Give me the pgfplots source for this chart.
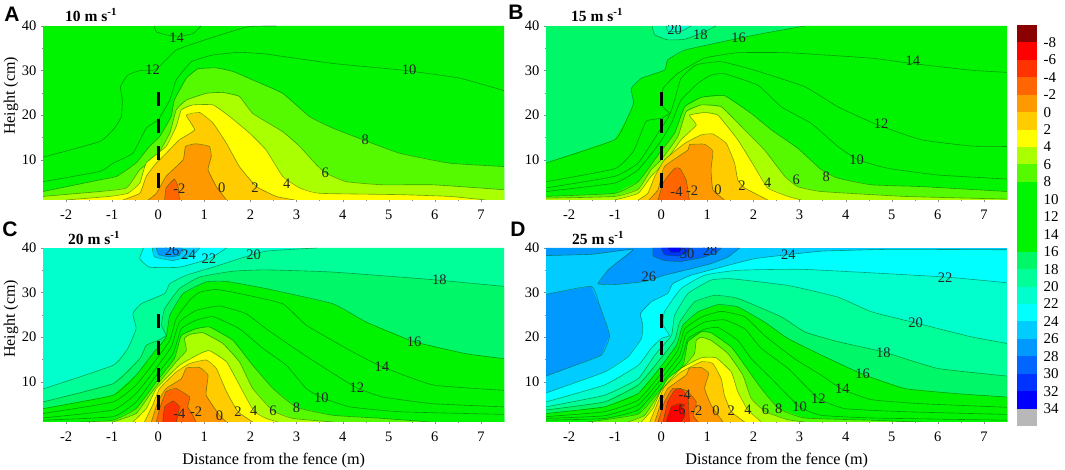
\documentclass[border=0pt]{standalone}
\usepackage{fontspec}
\setmainfont{Liberation Serif}
\newfontfamily\lettersf{Liberation Sans}
\usepackage{pgfplots}
\pgfplotsset{compat=1.18}
\definecolor{low}{HTML}{8B0000}
\definecolor{vm8}{HTML}{FF0000}
\definecolor{vm6}{HTML}{FF3300}
\definecolor{vm4}{HTML}{FF6600}
\definecolor{vm2}{HTML}{FF9900}
\definecolor{v0}{HTML}{FFCC00}
\definecolor{v2}{HTML}{FFFF00}
\definecolor{v4}{HTML}{AAFF00}
\definecolor{v6}{HTML}{55FA00}
\definecolor{v8}{HTML}{00F600}
\definecolor{v10}{HTML}{00F400}
\definecolor{v12}{HTML}{00F400}
\definecolor{v14}{HTML}{00F400}
\definecolor{v16}{HTML}{00F868}
\definecolor{v18}{HTML}{00FF99}
\definecolor{v20}{HTML}{00FFCC}
\definecolor{v22}{HTML}{00FFFF}
\definecolor{v24}{HTML}{00CCFF}
\definecolor{v26}{HTML}{0099FF}
\definecolor{v28}{HTML}{0066FF}
\definecolor{v30}{HTML}{0033FF}
\definecolor{v32}{HTML}{0000FF}
\definecolor{high}{HTML}{B8B8B8}
\newcommand{\BR}{(7.5,1)(-2.5,1)}
\newcommand{\TBR}{(7.5,40)(7.5,1)(-2.5,1)}
\newcommand{\ctr}[3]{%
  \addplot[fill=#1,draw=none,no markers,forget plot] coordinates {#2 #3} --cycle;
  \addplot[cline,forget plot] coordinates {#2};}
\newcommand{\bg}[1]{\addplot[fill=#1,draw=none,no markers,forget plot] coordinates {(-2.5,1)(7.5,1)(7.5,40)(-2.5,40)} --cycle;}
\newcommand{\fence}{\addplot[black,line width=3pt,dash pattern=on 14.3pt off 13pt,no markers,forget plot] coordinates {(0,25.3)(0,3.7)};}
\newcommand{\lab}[3]{\node[clab] at (axis cs:#1,#2) {#3};}
\tikzset{clab/.style={font=\fontsize{14.5}{15}\selectfont,inner sep=0pt,text=black!85}}
\pgfplotsset{
  cline/.style={draw=black!70!green!90!black,draw opacity=0.5,line width=0.6pt,no markers,smooth,tension=0.25},
  panel/.style={width=461pt,height=174pt,scale only axis,xmin=-2.5,xmax=7.5,ymin=1,ymax=40,
    axis lines*=left,axis line style={draw=none,-},
    xtick={-2,-1,0,1,2,3,4,5,6,7},xticklabels={-2,-1,0,1,2,3,4,5,6,7},
    ytick={10,20,30,40},yticklabels={10,20,30,40},
    minor x tick num=1,minor y tick num=1,
    tick style={draw=black!45,line width=0.3pt},major tick length=2pt,minor tick length=1.5pt,
    tick align=outside,
    ticklabel style={font=\fontsize{14.5}{15}\selectfont},
    xticklabel style={yshift=-4.5pt},yticklabel style={xshift=-1pt},
  },
}
\begin{document}
\begin{tikzpicture}[x=1pt,y=1pt]
\path[use as bounding box] (0,0) rectangle (1065,470);
% ---------- A
\begin{axis}[panel,at={(43pt,270pt)},anchor=south west]
\bg{v12}
\ctr{v14}{(-0.09,40)(-0.04,38.7)(0.17,38)(0.46,37.7)(0.75,38.3)(0.93,40)}{}
\ctr{v10}{(-2.5,10.6)(-1.27,14.1)(-0.95,17.1)(-0.8,19.7)(-0.78,23.4)(-0.82,26.4)(-0.66,29)(-0.4,30)(-0.1,30.1)(0.03,31)(0.39,34.6)(0.9,36.5)(1.47,38.4)(1.98,39.9)(2.56,40)}{\TBR}
\ctr{v8}{(-2.5,5.1)(-1.27,7.4)(-0.98,9.25)(-0.55,11.5)(-0.26,17.1)(0,19)(0.25,23.4)(0.39,27.9)(0.72,32)(1.19,33.5)(1.76,34.1)(2.34,33.7)(3.79,31.6)(5.3,30.1)(6.54,28.3)(7.5,25.5)}{\BR}
\ctr{v6}{(-2.5,2.9)(-1.27,5.5)(-0.9,6.3)(-0.48,9.3)(-0.19,13)(0.03,15.2)(0.28,19.7)(0.35,23.4)(0.61,28.3)(0.86,30.4)(1.26,30.6)(1.62,29.8)(2.05,27.9)(2.7,24.9)(3.28,19.7)(3.79,17.1)(4.44,14.5)(5.23,11.5)(6.32,9.25)(7.5,8.5)}{\BR}
\ctr{v4}{(-2.5,1.8)(-1.27,2.9)(-0.69,3.7)(-0.4,7.8)(-0.04,10.7)(0.25,16)(0.39,21.2)(0.61,23.4)(1.04,24.9)(1.4,25.1)(1.76,24.2)(2.05,20.4)(2.7,16.3)(3.07,13)(3.43,8.9)(3.64,7)(4.08,5.1)(4.87,4.4)(5.96,4.4)(7.5,3.3)}{\BR}
\ctr{v2}{(-2,1)(-1.06,1.8)(-0.66,2.5)(-0.4,4.8)(-0.26,9.3)(0.17,13)(0.39,17.5)(0.5,21.2)(0.75,22.3)(1.19,22.3)(1.55,19.7)(1.98,16)(2.34,12.2)(2.7,6.3)(3.07,3.7)(3.5,2.5)(5.23,2.2)(6.32,1.8)(7.1,1)}{}
\ctr{v0}{(-0.77,1)(-0.4,2.5)(-0.26,6.3)(-0.04,9.3)(0.1,10.7)(0.46,14.5)(0.79,16.7)(0.61,20)(0.9,20.6)(1.19,18.2)(1.48,13.7)(1.76,8.5)(2.13,4)(2.56,1.8)(2.96,1)}{}
\ctr{vm2}{(-0.22,1)(-0.04,2.5)(0.17,6.3)(0.54,10)(0.59,13)(0.82,13.6)(1.11,13)(1.15,10.7)(1.08,7.8)(1.26,4)(1.48,1)}{}
\ctr{vm4}{(0.14,1)(0.17,3.7)(0.35,5.7)(0.43,4)(0.46,1)}{}
\fence
\lab{0.4}{37.4}{14}\lab{-0.12}{30.1}{12}\lab{5.44}{30.1}{10}\lab{4.49}{14.6}{8}\lab{3.62}{7}{6}\lab{2.79}{4.6}{4}\lab{2.1}{3.7}{2}\lab{1.38}{3.7}{0}\lab{0.46}{3.5}{-2}
\end{axis}
% ---------- B
\begin{axis}[panel,at={(546pt,270pt)},anchor=south west]
\bg{v16}
\ctr{v18}{(-0.2,40)(-0.14,38)(0.14,36.9)(0.5,37)(0.87,38.4)(1.19,40)}{}
\ctr{v20}{(0.11,40)(0.15,38.8)(0.43,38.8)(0.65,40)}{}
\ctr{v14}{(-2.5,9.3)(-1.01,14.5)(-0.72,19.7)(-0.6,22.7)(-0.65,26)(-0.43,28.3)(0.07,30.1)(0.14,32.4)(0.51,34.6)(1.52,36.9)(2.24,38.4)(3.11,40)}{\TBR}
\ctr{v12}{(-2.5,5.1)(-1.01,8)(-0.6,12)(-0.33,18.6)(0,19.3)(0.18,20.4)(0.03,22)(0.04,26)(0.36,29.4)(0.94,32.8)(1.66,34)(2.75,34)(4.55,32.8)(5.43,31.6)(6.72,30.1)(7.5,29.6)}{\BR}
\ctr{v10}{(-2.5,3.7)(-1.01,6.3)(-0.5,9.3)(-0.07,16)(0.18,20)(0.29,23.4)(0.43,28.3)(0.76,31.3)(1.3,32)(2.02,30.1)(3.11,26.4)(3.83,21.9)(4.7,17.8)(5.64,14.5)(6.72,13.1)(7.5,13)}{\BR}
\ctr{v8}{(-2.5,2.9)(-1.01,4.8)(-0.5,7.8)(-0.04,13.7)(0.22,18.2)(0.43,23.4)(0.8,27.2)(1.08,29)(1.37,29.3)(2.1,26.7)(2.6,21.9)(3.25,18.2)(3.83,13)(4.27,10)(4.92,8.1)(6,6.6)(7.5,5.7)}{\BR}
\ctr{v6}{(-2.5,1.8)(-1.01,2.5)(-0.5,5.1)(-0.04,11.5)(0.29,16)(0.51,21.9)(0.87,24)(1.37,24.4)(1.95,20.4)(2.39,16.7)(2.96,12.6)(3.47,7.8)(3.83,5.9)(4.56,4.4)(5.64,4)(7.5,2.9)}{\BR}
\ctr{v4}{(-2.5,1.4)(-1.01,1.8)(-0.5,3.4)(-0.22,7.8)(0,10)(0.36,15.2)(0.54,20.8)(0.87,22.3)(1.3,21.9)(1.81,16.7)(2.24,12.2)(2.68,6.3)(2.96,4)(3.47,2.9)(5.28,1.8)(7.5,1.2)}{\BR}
\ctr{v2}{(-1.01,1)(-0.5,2.5)(-0.22,6.3)(0.07,9.3)(0.43,14.5)(0.76,17.8)(0.61,20)(0.94,20.6)(1.23,20)(1.66,14.5)(2.02,8.5)(2.31,3.7)(2.75,1.8)(3.04,1)}{}
\ctr{v0}{(-0.5,1)(-0.29,2.5)(-0.14,6.3)(0.07,10)(0.51,13.7)(0.87,15.6)(1.12,15.8)(1.41,13.7)(1.59,9.3)(1.66,5.5)(1.81,3.7)(2.31,1)}{}
\ctr{vm2}{(-0.27,1)(-0.07,3.3)(0.07,8.5)(0.58,12.2)(0.61,13.4)(0.94,13.5)(1.12,11.9)(1.08,7.8)(1.12,3.3)(1.37,1)}{}
\ctr{vm4}{(-0.07,1)(0.04,4.8)(0.14,6.3)(0.29,8.1)(0.4,8.1)(0.54,5.5)(0.61,1)}{}
\fence
\lab{0.29}{39.1}{20}\lab{0.85}{38.1}{18}\lab{1.68}{37.4}{16}\lab{5.46}{32.2}{14}\lab{4.77}{18.1}{12}\lab{4.24}{10.1}{10}\lab{3.58}{6.3}{8}\lab{2.93}{5.5}{6}\lab{2.31}{4.8}{4}\lab{1.75}{4.2}{2}\lab{1.23}{3.3}{0}\lab{0.67}{3.1}{-2}\lab{0.33}{2.9}{-4}
\end{axis}
% ---------- C
\begin{axis}[panel,at={(43pt,48pt)},anchor=south west]
\bg{v20}
\ctr{v22}{(-0.32,40)(-0.4,37.6)(-0.19,35.7)(0.46,35.7)(1.11,37.6)(1.48,40)}{}
\ctr{v24}{(-0.13,40)(-0.08,38)(0.32,37.2)(0.75,38.4)(0.9,40)}{}
\ctr{v26}{(-0.04,40)(0.01,38.5)(0.25,38)(0.46,38.4)(0.52,40)}{}
\ctr{v18}{(-2.5,8.4)(-0.98,13.7)(-0.66,17.5)(-0.48,21.9)(-0.55,25.3)(-0.37,27.5)(0.14,29.8)(0.25,32)(0.61,33.9)(1.19,35.7)(1.76,37.6)(2.34,39.3)(3.43,40)}{\TBR}
\ctr{v16}{(-2.5,5.5)(-0.98,9.6)(-0.4,15.2)(-0.26,18.2)(0,19.3)(0.17,20.4)(0.07,22.7)(0.14,26.4)(0.46,30.9)(0.9,33.5)(1.62,34.8)(2.34,35.1)(3.79,34.6)(5.96,32.9)(7.5,31.4)}{\BR}
\ctr{v14}{(-2.5,4)(-0.98,7)(-0.48,11.5)(-0.12,16.3)(0.17,20)(0.25,24.9)(0.54,29.8)(1.04,32.4)(1.48,32.5)(2.34,30.9)(3.79,27.5)(4.51,23.4)(5.55,19)(6.68,16.3)(7.5,15.2)}{\BR}
\ctr{v12}{(-2.5,2.9)(-0.98,5.5)(-0.48,9.3)(-0.08,14.5)(0.25,19.3)(0.39,24.2)(0.68,28.3)(0.9,30.1)(1.26,30.7)(1.76,29.8)(2.7,27.5)(3.21,22.7)(4.15,17.1)(4.85,13.4)(5.96,9.3)(7.5,8.1)}{\BR}
\ctr{v10}{(-2.5,1.9)(-0.98,3.7)(-0.48,7.4)(-0.08,12.6)(0.28,17.8)(0.46,23.4)(0.82,26)(1.33,27)(1.9,25.3)(2.34,21.9)(3.07,16.7)(3.79,11.9)(4.3,8.7)(4.87,6.6)(5.96,5.1)(7.5,4.4)}{\BR}
\ctr{v8}{(-2.5,1.4)(-0.98,2.2)(-0.48,5.5)(-0.04,11.5)(0.32,16.3)(0.5,21.9)(0.82,23.8)(1.19,24.6)(1.76,21.9)(2.27,17.5)(2.78,13.7)(3.21,8.5)(3.54,6.5)(4.15,4.4)(5.23,3.3)(7.5,2.7)}{\BR}
\ctr{v6}{(-1.7,1)(-0.98,1.4)(-0.48,4)(-0.04,10)(0.35,15.2)(0.5,20.4)(0.82,21.9)(1.11,22.3)(1.62,19.3)(2.05,13.7)(2.49,8.5)(3,4.3)(3.79,2.5)(4.87,1.8)(5.9,1)}{}
\ctr{v4}{(-0.98,1)(-0.48,2.9)(-0.19,7)(0.03,10)(0.39,14.5)(0.61,17)(0.57,19.7)(0.68,20.6)(0.97,21)(1.4,18.6)(1.76,14.5)(2.05,8.5)(2.49,3.5)(2.92,1.8)(3.79,1)}{}
\ctr{v2}{(-0.55,1)(-0.26,4)(-0.04,8.5)(0.46,13.7)(0.9,16.3)(1.11,17)(1.48,14.5)(1.76,9.3)(2.07,3.5)(2.34,1.8)(2.6,1)}{}
\ctr{v0}{(-0.3,1)(-0.12,4.8)(0.03,8.5)(0.39,12.2)(0.68,14.1)(1.04,14.9)(1.26,13)(1.48,7.8)(1.73,3.3)(2.05,1)}{}
\ctr{vm2}{(-0.15,1)(-0.01,5.5)(0.17,8.5)(0.5,10.7)(0.61,13.1)(0.9,13.2)(1.08,11.5)(1.04,7)(1.33,2.5)(1.48,1)}{}
\ctr{vm4}{(-0.04,1)(0.03,4)(0.17,7.8)(0.39,8.5)(0.68,6.6)(0.64,4.4)(0.75,2.5)(0.82,1)}{}
\ctr{vm6}{(0.1,1)(0.14,4.4)(0.32,5.7)(0.46,4.4)(0.39,1)}{}
\fence
\lab{0.3}{39.3}{26}\lab{0.66}{38.5}{24}\lab{1.1}{37.6}{22}\lab{2.07}{38.5}{20}\lab{6.1}{32.8}{18}\lab{5.55}{19}{16}\lab{4.85}{13.4}{14}\lab{4.31}{8.7}{12}\lab{3.54}{6.5}{10}\lab{3}{4.3}{8}\lab{2.49}{3.5}{6}\lab{2.07}{3.5}{4}\lab{1.73}{3.3}{2}\lab{1.33}{2.4}{0}\lab{0.82}{3.3}{-2}\lab{0.46}{2.8}{-4}
\end{axis}
% ---------- D
\begin{axis}[panel,at={(546pt,48pt)},anchor=south west]
\bg{v24}
\ctr{v26}{(-2.5,29.6)(-1.52,31.4)(-1.34,27.2)(-1.12,20.4)(-1.3,16)(-1.95,13.4)(-2.5,11.3)}{}
\ctr{v26}{(-2.5,38.3)(-1.5,38.6)(-0.61,39.7)(-0.94,36.9)(-1.16,35)(-1.37,32)(-1.01,31.8)(-0.36,32.5)(0.07,33.9)(0.51,35)(1.08,36.5)(1.45,38)(1.7,40)}{(-2.5,40)}
\ctr{v28}{(-0.18,40)(-0.17,38.2)(0.07,37.2)(0.43,37)(0.94,38)(1.2,39.1)(1.3,40)}{}
\ctr{v30}{(0,40)(0.07,38.5)(0.36,38.2)(0.55,38.9)(0.6,40)}{}
\ctr{v32}{(0.14,40)(0.22,39.1)(0.4,39.1)(0.43,40)}{}
\ctr{v22}{(-2.5,7.5)(-1.23,12.2)(-0.72,15.6)(-0.43,19.7)(-0.4,22.7)(-0.45,25.3)(-0.22,27.9)(0.14,29.8)(0.25,32)(0.65,33.9)(1.3,35.7)(2.02,37.6)(2.75,38.5)(3.5,39.3)(5,39.7)(7.5,39.6)}{\BR}
\ctr{v20}{(-2.5,5.5)(-1.23,9.3)(-0.5,13.7)(-0.22,17.5)(0,19.7)(0.18,20.4)(0.04,22.7)(0.07,25.7)(0.43,30.9)(0.94,33.9)(1.66,35)(3.11,35.2)(6.15,33.5)(7.5,32.2)}{\BR}
\ctr{v18}{(-2.5,4.4)(-1.23,7)(-0.5,10.7)(-0.14,16)(0.22,20.4)(0.29,24.9)(0.58,29.8)(1.08,32.8)(1.52,33.1)(2.75,31.6)(3.83,29)(4.56,25.7)(5.52,23.2)(6.72,20.1)(7.5,18.6)}{\BR}
\ctr{v16}{(-2.5,3.7)(-1.23,5.5)(-0.5,9.3)(-0.07,14.5)(0.29,19.3)(0.4,23.4)(0.72,27.9)(1.16,29.4)(1.66,28.7)(2.6,24.6)(3.11,21.2)(3.83,19)(4.82,16.7)(6,13)(7.5,11.3)}{\BR}
\ctr{v14}{(-2.5,2.9)(-1.23,4.4)(-0.5,7.4)(-0.04,13)(0.33,18.2)(0.47,22.7)(0.8,25.7)(1.23,27.3)(1.66,26.8)(2.24,23.4)(2.75,19.7)(3.47,16)(4.37,11.7)(5.28,8.5)(6.36,7.4)(7.5,6.6)}{\BR}
\ctr{v12}{(-2.5,2.2)(-1.23,3.3)(-0.5,5.9)(0,11.9)(0.36,17.1)(0.51,21.9)(0.87,24.5)(1.3,25.8)(1.81,24.6)(2.24,20.4)(2.89,15.2)(3.47,11.5)(3.93,8.3)(4.56,6)(5.64,5.1)(7.5,4.3)}{\BR}
\ctr{v10}{(-2.5,1.8)(-1.23,2.4)(-0.5,4.8)(0,10.7)(0.4,16)(0.54,20.8)(0.94,23.4)(1.37,23.9)(1.81,21.9)(2.17,17.5)(2.75,13)(3.41,6.3)(3.98,4)(5.28,3.3)(7.5,2.7)}{\BR}
\ctr{v8}{(-2.5,1.4)(-1.23,1.8)(-0.5,3.7)(0,9.6)(0.43,14.9)(0.58,19.7)(0.94,21.8)(1.23,22.2)(1.66,19.3)(1.95,15.2)(2.39,10.7)(3,4.4)(3.47,2.5)(4.56,1.9)(7.5,1.4)}{\BR}
\ctr{v6}{(-1.59,1)(-0.5,2.8)(0,8.5)(0.47,13.7)(0.58,19)(0.87,21.2)(1.08,21)(1.52,17.8)(1.81,13.7)(2.17,8.5)(2.55,4)(3.11,1.9)(4.56,1.4)(5.28,1.1)(5.64,1)}{}
\ctr{v4}{(-0.72,1)(-0.36,2.5)(-0.07,7)(0.14,10.7)(0.51,13.7)(0.72,16.3)(0.76,19.3)(0.87,20)(1.08,19.3)(1.45,16.3)(1.77,11.5)(1.95,6.3)(2.26,3.3)(2.75,1.5)(3.11,1)}{}
\ctr{v2}{(-0.43,1)(-0.18,4)(0,8.1)(0.43,13)(0.87,15.4)(1.19,15.4)(1.52,12.2)(1.66,7.8)(1.88,3.7)(2.17,1)}{}
\ctr{v0}{(-0.25,1)(-0.07,5.5)(0.07,8.9)(0.43,12.2)(0.87,14.5)(1.12,14.1)(1.3,10.7)(1.37,7)(1.52,3.3)(1.81,1)}{}
\ctr{vm2}{(-0.14,1)(0,5.5)(0.14,8.5)(0.54,11.5)(0.61,13.1)(0.87,13.2)(1.03,11.9)(0.94,8.5)(1.08,4.8)(1.34,1)}{}
\ctr{vm4}{(-0.07,1)(0.07,5.5)(0.25,8.5)(0.54,8.1)(0.76,5.5)(0.69,2.5)(0.8,1)}{}
\ctr{vm6}{(0.04,1)(0.14,5.5)(0.29,8.1)(0.43,8.5)(0.58,6.3)(0.61,1)}{}
\ctr{vm8}{(0.11,1)(0.22,4.4)(0.43,5.1)(0.51,2.5)(0.43,1)}{}
\fence
\lab{0.56}{38.6}{30}\lab{1.06}{39.3}{28}\lab{-0.27}{33.5}{26}\lab{2.76}{38.5}{24}\lab{6.16}{33.4}{22}\lab{5.52}{23.2}{20}\lab{4.82}{16.6}{18}\lab{4.37}{11.7}{16}\lab{3.93}{8.4}{14}\lab{3.41}{6.3}{12}\lab{3}{4.4}{10}\lab{2.55}{4}{8}\lab{2.26}{3.8}{6}\lab{1.88}{3.7}{4}\lab{1.52}{3.5}{2}\lab{1.19}{3.5}{0}\lab{0.76}{3.5}{-2}\lab{0.4}{3.8}{-6}\lab{0.51}{7}{-4}
\end{axis}
% ---------- colour bar
\begin{axis}[width=20pt,height=401pt,scale only axis,at={(1017pt,44pt)},anchor=south west,
  xmin=0,xmax=1,ymin=-10,ymax=36,y dir=reverse,
  axis line style={draw=none},xtick=\empty,
  ytick={-8,-6,-4,-2,0,2,4,6,8,10,12,14,16,18,20,22,24,26,28,30,32,34},
  yticklabels={-8,-6,-4,-2,0,2,4,6,8,10,12,14,16,18,20,22,24,26,28,30,32,34},
  ytick pos=right,yticklabel pos=right,major tick length=0pt,
  yticklabel style={font=\fontsize{15}{16}\selectfont,anchor=west,xshift=3pt},
  every axis plot/.append style={draw=none,no markers,forget plot}]
\addplot[fill=low] coordinates {(0,-10)(1,-10)(1,-8)(0,-8)} --cycle;
\addplot[fill=vm8] coordinates {(0,-8)(1,-8)(1,-6)(0,-6)} --cycle;
\addplot[fill=vm6] coordinates {(0,-6)(1,-6)(1,-4)(0,-4)} --cycle;
\addplot[fill=vm4] coordinates {(0,-4)(1,-4)(1,-2)(0,-2)} --cycle;
\addplot[fill=vm2] coordinates {(0,-2)(1,-2)(1,0)(0,0)} --cycle;
\addplot[fill=v0] coordinates {(0,0)(1,0)(1,2)(0,2)} --cycle;
\addplot[fill=v2] coordinates {(0,2)(1,2)(1,4)(0,4)} --cycle;
\addplot[fill=v4] coordinates {(0,4)(1,4)(1,6)(0,6)} --cycle;
\addplot[fill=v6] coordinates {(0,6)(1,6)(1,8)(0,8)} --cycle;
\addplot[fill=v8] coordinates {(0,8)(1,8)(1,10)(0,10)} --cycle;
\addplot[fill=v10] coordinates {(0,10)(1,10)(1,12)(0,12)} --cycle;
\addplot[fill=v12] coordinates {(0,12)(1,12)(1,14)(0,14)} --cycle;
\addplot[fill=v14] coordinates {(0,14)(1,14)(1,16)(0,16)} --cycle;
\addplot[fill=v16] coordinates {(0,16)(1,16)(1,18)(0,18)} --cycle;
\addplot[fill=v18] coordinates {(0,18)(1,18)(1,20)(0,20)} --cycle;
\addplot[fill=v20] coordinates {(0,20)(1,20)(1,22)(0,22)} --cycle;
\addplot[fill=v22] coordinates {(0,22)(1,22)(1,24)(0,24)} --cycle;
\addplot[fill=v24] coordinates {(0,24)(1,24)(1,26)(0,26)} --cycle;
\addplot[fill=v26] coordinates {(0,26)(1,26)(1,28)(0,28)} --cycle;
\addplot[fill=v28] coordinates {(0,28)(1,28)(1,30)(0,30)} --cycle;
\addplot[fill=v30] coordinates {(0,30)(1,30)(1,32)(0,32)} --cycle;
\addplot[fill=v32] coordinates {(0,32)(1,32)(1,34)(0,34)} --cycle;
\addplot[fill=high] coordinates {(0,34)(1,34)(1,36)(0,36)} --cycle;
\end{axis}
% ---------- text
\foreach \px/\py/\t in {12/456/A,516/458/B,10/241/C,518/241/D}
  \node[font=\lettersf\bfseries\fontsize{21}{21}\selectfont] at (\px,\py) {\t};
\foreach \px/\py/\t in {65/455/10,571/455/15,68/232/20,572/232/25}
  \node[anchor=west,inner sep=0pt,font=\bfseries\fontsize{15.5}{16}\selectfont] at (\px,\py) {\t\ m s\textsuperscript{-1}};
\node[rotate=90,font=\fontsize{16}{17}\selectfont] at (11,374) {Height (cm)};
\node[rotate=90,font=\fontsize{16}{17}\selectfont] at (11,151) {Height (cm)};
\node[font=\fontsize{16.2}{17}\selectfont] at (273.7,9) {Distance from the fence (m)};
\node[font=\fontsize{16.2}{17}\selectfont] at (776.7,9) {Distance from the fence (m)};
\end{tikzpicture}
\end{document}
